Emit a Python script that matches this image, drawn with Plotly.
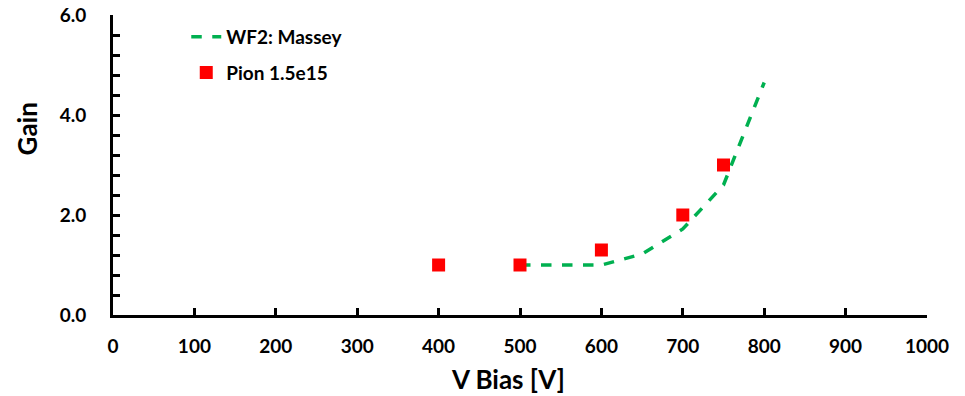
import plotly.graph_objects as go

# Massey model curve (WF2)
massey_v = [500, 550, 600, 650, 700, 750, 800]
massey_gain = [1.0, 1.0, 1.0, 1.22, 1.72, 2.6, 4.65]

# Measured gain, pion fluence 1.5e15
pion_v = [400, 500, 600, 700, 750]
pion_gain = [1.0, 1.0, 1.3, 2.0, 3.0]

FONT = "Lato"
TITLE_FONT = dict(family=FONT, size=26, color="black", weight="bold")

fig = go.Figure()
fig.add_trace(go.Scatter(
    x=massey_v, y=massey_gain, mode="lines", name="WF2: Massey",
    legendgroup="massey",
    line=dict(color="#00B050", width=3.5, dash="dash"),
))
fig.add_trace(go.Scatter(
    x=pion_v, y=pion_gain, mode="markers", name="Pion 1.5e15",
    legendgroup="pion",
    marker=dict(color="#FF0000", symbol="square", size=13),
))

axis_common = dict(
    showline=True, linecolor="black", linewidth=3,
    ticks="inside", tickcolor="black", tickwidth=3, ticklen=7,
    showgrid=False, zeroline=False, automargin=False,
    tickfont=dict(family=FONT, size=19, color="black", weight="bold"),
)

fig.update_layout(
    width=965, height=396,
    margin=dict(l=113, r=38, t=15, b=81),
    paper_bgcolor="white", plot_bgcolor="white",
    font=dict(family=FONT, color="black"),
    xaxis=dict(
        range=[0, 1000], dtick=100, tick0=0,
        ticklabelstandoff=12,
        **axis_common,
    ),
    yaxis=dict(
        range=[0, 6], dtick=2, tick0=0, tickformat=".1f",
        minor=dict(dtick=0.4, ticks="inside", ticklen=7, tickcolor="black", tickwidth=3),
        ticklabelstandoff=20,
        **axis_common,
    ),
    legend=dict(
        x=0.09, y=0.99, xanchor="left", yanchor="top",
        bgcolor="rgba(0,0,0,0)",
        font=dict(family=FONT, size=19, color="black", weight="bold"),
        tracegroupgap=8,
    ),
    showlegend=True,
    annotations=[
        # axis titles
        dict(text="V Bias [V]", xref="paper", yref="paper", x=0.485, y=-0.213,
             xanchor="center", yanchor="middle", showarrow=False, font=TITLE_FONT),
        dict(text="Gain", xref="paper", yref="paper", x=-0.106, y=0.621,
             xanchor="center", yanchor="middle", textangle=-90,
             showarrow=False, font=TITLE_FONT),
    ],
)

fig.write_html("out.html")
